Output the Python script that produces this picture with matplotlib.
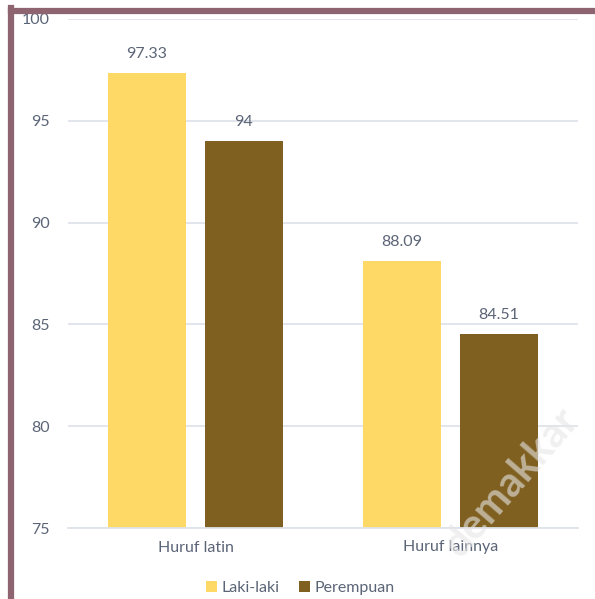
import numpy as np
import matplotlib.pyplot as plt
from matplotlib.lines import Line2D

categories=["Huruf latin","Huruf lainnya"]
series_names=["Laki-laki","Perempuan"]
laki=[97.33,88.09]
perempuan=[94,84.51]
value_labels=[["97.33","88.09"],["94","84.51"]]
yticks=[75,80,85,90,95,100]

plt.rcParams['font.family']=['Lato','DejaVu Sans']
txt="#5b6577"
colors=["#ffd966","#7f6020"]

fig=plt.figure(figsize=(5.95,5.99),dpi=100,facecolor="white")
ax=fig.add_axes([68/595,1-528/599,510/595,509/599])

x=np.arange(len(categories))
w=0.306
off=0.19
for i,(vals,lab) in enumerate(zip([laki,perempuan],value_labels)):
    pos=x+(-off if i==0 else off)
    ax.bar(pos,[v-75 for v in vals],bottom=75,width=w,color=colors[i],label=series_names[i],zorder=2)
    for p,v,l in zip(pos,vals,lab):
        ax.text(p,v+0.6,l,ha="center",va="bottom",fontsize=11.5,color=txt)

ax.set_xlim(-0.5,1.5)
ax.set_ylim(75,100)
ax.set_yticks(yticks)
ax.set_xticks(x)
ax.set_xticklabels(categories)
ax.tick_params(axis="both",length=0,labelsize=11.5,colors=txt)
ax.tick_params(axis="y",pad=13)
ax.tick_params(axis="x",pad=9)
ax.grid(axis="y",color="#dfe3ea",lw=1.3,zorder=0)
for s in ["top","right","left"]:
    ax.spines[s].set_visible(False)
ax.spines["bottom"].set_color("#dfe3ea")
ax.spines["bottom"].set_linewidth(1.3)

leg=fig.legend(loc="center",bbox_to_anchor=(0.505,1-588/599),ncols=2,frameon=False,fontsize=11.5,
               handlelength=0.7,handleheight=0.7,handletextpad=0.3,columnspacing=1.2,labelcolor=txt)

# frame border
fig.add_artist(Line2D([10.5/595,1],[1-10.5/599,1-10.5/599],color="#8e6470",lw=4.5,transform=fig.transFigure))
fig.add_artist(Line2D([10.5/595,10.5/595],[0,1-8/599],color="#8e6470",lw=4.5,transform=fig.transFigure))

# watermark
fig.text(512/595,1-482/599,"demakkar",fontsize=30,fontweight="bold",color="#e6e6e6",alpha=0.6,
         rotation=49,ha="center",va="center",zorder=0)

fig.savefig("out.png",dpi=100,facecolor="white")
